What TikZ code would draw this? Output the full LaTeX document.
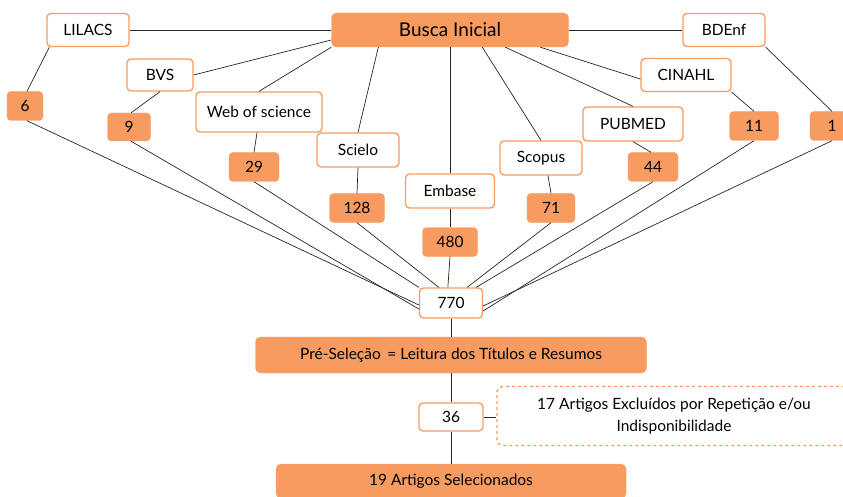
\documentclass[tikz,border=0pt]{standalone}
\usepackage{fontspec}
\setmainfont{Lato}
\usepackage{tikz}
\usetikzlibrary{positioning}
\definecolor{laranja}{RGB}{247,155,96}
\tikzset{>=latex}
\tikzset{
  base/.style={draw=laranja, line width=1.3pt, fill=white, rounded corners=4pt,
    inner sep=0pt, font=\fontsize{15.5}{18}\selectfont},
  numero/.style={fill=laranja, draw=laranja, rounded corners=4pt,
    inner sep=0pt, font=\fontsize{15.5}{18}\selectfont},
  etapa/.style={fill=laranja, draw=laranja, rounded corners=5pt,
    inner sep=0pt, font=\fontsize{15.5}{18}\selectfont},
  liga/.style={draw=black!85, line width=0.7pt}
}

\begin{document}
\begin{tikzpicture}[x=1pt, y=-1pt]
      \useasboundingbox (0,0) rectangle (843,497);
      % busca inicial e bases
	  \node (busca) at (450,30) [etapa, minimum width=237, minimum height=34, font=\fontsize{19}{22}\selectfont] {Busca Inicial};
	  \node (lilacs) at (88,30) [base, minimum width=82, minimum height=33] {LILACS};
	  \node (bdenf) at (724,30) [base, minimum width=82, minimum height=33] {BDEnf};
	  \node (bvs) at (160,75) [base, minimum width=66, minimum height=32] {BVS};
	  \node (cinahl) at (686,75) [base, minimum width=90, minimum height=33] {CINAHL};
	  \node (wos) at (259,112) [base, minimum width=126, minimum height=40] {Web of science};
	  \node (pubmed) at (633,124) [base, minimum width=100, minimum height=34] {PUBMED};
	  \node (scielo) at (358,150) [base, minimum width=82, minimum height=34] {Scielo};
	  \node (scopus) at (541,158) [base, minimum width=82, minimum height=34] {Scopus};
	  \node (embase) at (450,191) [base, minimum width=89, minimum height=34] {Embase};

	  % quantidades
	  \node (n6) at (25,106) [numero, minimum width=36, minimum height=29] {6};
	  \node (n9) at (129,127) [numero, minimum width=43, minimum height=28] {9};
	  \node (n29) at (254,167) [numero, minimum width=50, minimum height=29] {29};
	  \node (n128) at (357,208) [numero, minimum width=55, minimum height=29] {128};
	  \node (n480) at (450,242) [numero, minimum width=55, minimum height=29] {480};
	  \node (n71) at (551,208) [numero, minimum width=48, minimum height=29] {71};
	  \node (n44) at (653,167) [numero, minimum width=50, minimum height=29] {44};
	  \node (n11) at (754,126) [numero, minimum width=49, minimum height=29] {11};
	  \node (n1) at (832,126) [numero, minimum width=44, minimum height=29] {1};

	  % etapas
	  \node (total) at (451,303) [base, minimum width=63, minimum height=30] {770};
	  \node (pre) at (451,355) [etapa, minimum width=391, minimum height=36] {Pré-Seleção \,= Leitura dos Títulos e Resumos};
	  \node (n36) at (451,417) [base, minimum width=64, minimum height=28] {36};
	  \node (excl) at (674,416) [draw=laranja, dashed, line width=1.3pt, rounded corners=6pt, minimum width=354, minimum height=59,
	        align=center, font=\fontsize{15.5}{22}\selectfont] {17 Artigos Excluídos por Repetição e/ou\\Indisponibilidade};
	  \node (sel) at (451,481) [etapa, minimum width=350, minimum height=34] {19 Artigos Selecionados};

	  % ligacoes busca -- bases
	  \draw[liga] (busca.west) -- (lilacs.east);
	  \draw[liga] (busca.east) -- (bdenf.west);
	  \draw[liga] ([yshift=-10]busca.west) -- (bvs.east);
	  \draw[liga] (busca.south west) -- (wos.north);
	  \draw[liga] ([xshift=47]busca.south west) -- (scielo.north);
	  \draw[liga] (busca.south) -- (embase.north);
	  \draw[liga] ([xshift=151]busca.south west) -- (scopus.north);
	  \draw[liga] ([xshift=174]busca.south west) -- (pubmed.north);
	  \draw[liga] ([xshift=209]busca.south west) -- ([yshift=-4]cinahl.west);

	  % ligacoes bases -- quantidades
	  \draw[liga] ([xshift=3]lilacs.south west) -- ([xshift=2]n6.north);
	  \draw[liga] (bvs.south) -- ([xshift=2]n9.north);
	  \draw[liga] ([xshift=-2]wos.south) -- (n29.north);
	  \draw[liga] (scielo.south) -- (n128.north);
	  \draw[liga] (embase.south) -- (n480.north);
	  \draw[liga] ([xshift=7]scopus.south) -- (n71.north);
	  \draw[liga] (pubmed.south) -- ([xshift=-2]n44.north);
	  \draw[liga] (cinahl.south east) -- (n11.north);
	  \draw[liga] (bdenf.south east) -- (n1.north);

	  % ligacoes quantidades -- total
	  \draw[liga] ([xshift=2]n6.south) -- ([yshift=-2]total.west);
	  \draw[liga] ([xshift=2]n9.south) -- ([yshift=-6]total.west);
	  \draw[liga] (n29.south) -- (total.north west);
	  \draw[liga] (n128.south) -- ([xshift=20]total.north west);
	  \draw[liga] (n480.south) -- ([xshift=29]total.north west);
	  \draw[liga] (n71.south) -- ([xshift=-16]total.north east);
	  \draw[liga] (n44.south) -- ([xshift=-7]total.north east);
	  \draw[liga] (n11.south) -- ([yshift=-8]total.east);
	  \draw[liga] (n1.south) -- ([yshift=-3]total.east);

	  % fluxo final
	  \draw[liga] (total) -- (pre);
	  \draw[liga] (pre) -- (n36);
	  \draw[liga] (n36) -- (sel);
	  \draw[liga] (n36.east) -- (n36.east -| excl.west);
\end{tikzpicture}
\end{document}
